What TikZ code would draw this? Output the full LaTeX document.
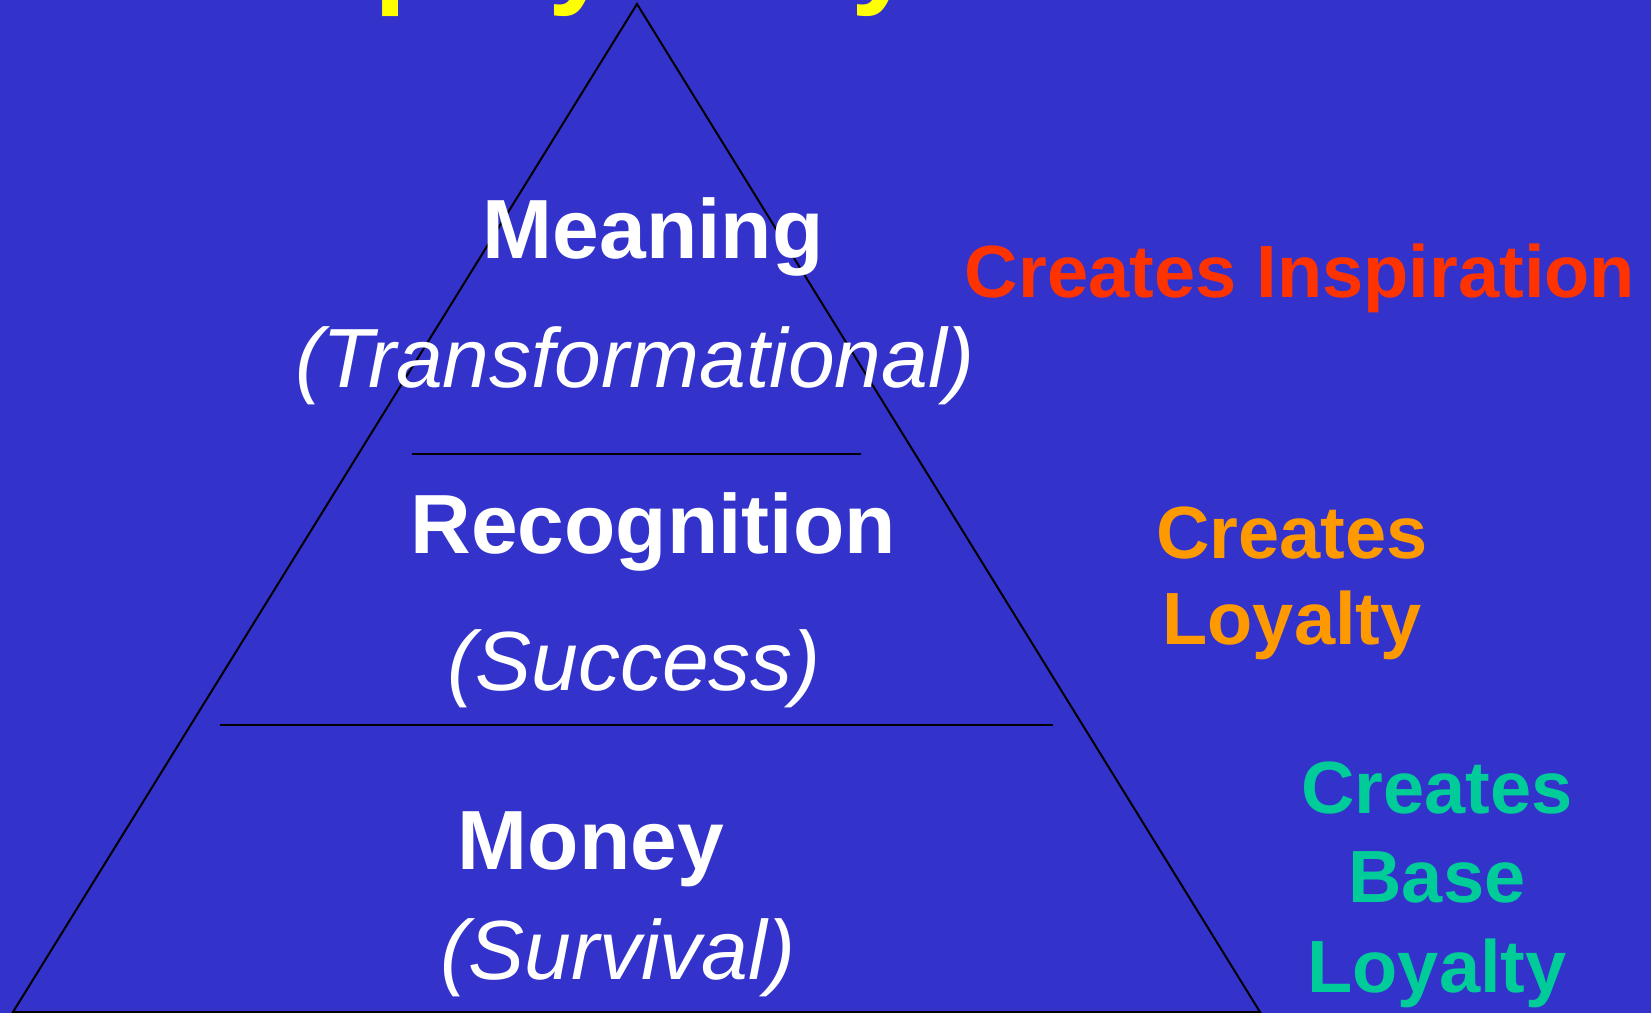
\documentclass[tikz,border=0pt]{standalone}
\usepackage{fontspec}
\setmainfont{Liberation Sans}
\definecolor{slidebg}{RGB}{51,51,204}
\definecolor{titleyellow}{RGB}{255,255,0}
\definecolor{inspred}{RGB}{255,51,0}
\definecolor{loyorange}{RGB}{255,153,0}
\definecolor{basegreen}{RGB}{0,204,153}
\begin{document}
\begin{tikzpicture}[x=0.5pt,y=-0.5pt,
  tier/.style={text=white,font=\bfseries\fontsize{42}{50}\selectfont,anchor=base,inner sep=0pt},
  tiersub/.style={text=white,font=\itshape\fontsize{42}{50}\selectfont,anchor=base,inner sep=0pt},
  effect/.style={font=\bfseries\fontsize{37}{43}\selectfont,anchor=base,inner sep=0pt,align=center},
  edge/.style={draw=black,line width=1pt}]
  % page and background
  \useasboundingbox (0,0) rectangle (1651,1013);
  \fill[slidebg] (0,0) rectangle (1651,1013);
  \clip (0,0) rectangle (1651,1013);

  % title, mostly above the page edge
  \node[anchor=base west,inner sep=0pt,text=titleyellow,
        font=\bfseries\fontsize{58}{70}\selectfont] (title) at (193.5,-7.5) {Employee Pyramid};

  % pyramid outline and tier dividers
  \coordinate (apex) at (637,4);
  \coordinate (baseL) at (13,1012);
  \coordinate (baseR) at (1260,1012);
  \draw[edge,line join=miter] (apex) -- (baseL) -- (baseR) -- cycle;
  \coordinate (d1L) at (412,454);
  \coordinate (d1R) at (861,454);
  \coordinate (d2L) at (220,725);
  \coordinate (d2R) at (1053,725);
  \draw[edge] (d1L) -- (d1R);
  \draw[edge] (d2L) -- (d2R);

  % tier labels
  \node[tier] (meaning) at (653,258) {Meaning};
  \node[tiersub] (transf) at (635,387) {(Transformational)};
  \node[tier] (recog) at (653,553) {Recognition};
  \node[tiersub] (success) at (634,690) {(Success)};
  \node[tier] (money) at (591,869) {Money};
  \node[tiersub] (survival) at (618,979) {(Survival)};

  % effects of each tier
  \node[effect,text=inspred] (insp) at (1300,297) {Creates Inspiration};
  \node[effect,text=loyorange] (loy1) at (1292,558) {Creates};
  \node[effect,text=loyorange] (loy2) at (1292,644) {Loyalty};
  \node[effect,text=basegreen] (base1) at (1437,813) {Creates};
  \node[effect,text=basegreen] (base2) at (1437,902) {Base};
  \node[effect,text=basegreen] (base3) at (1437,992) {Loyalty};
\end{tikzpicture}
\end{document}
